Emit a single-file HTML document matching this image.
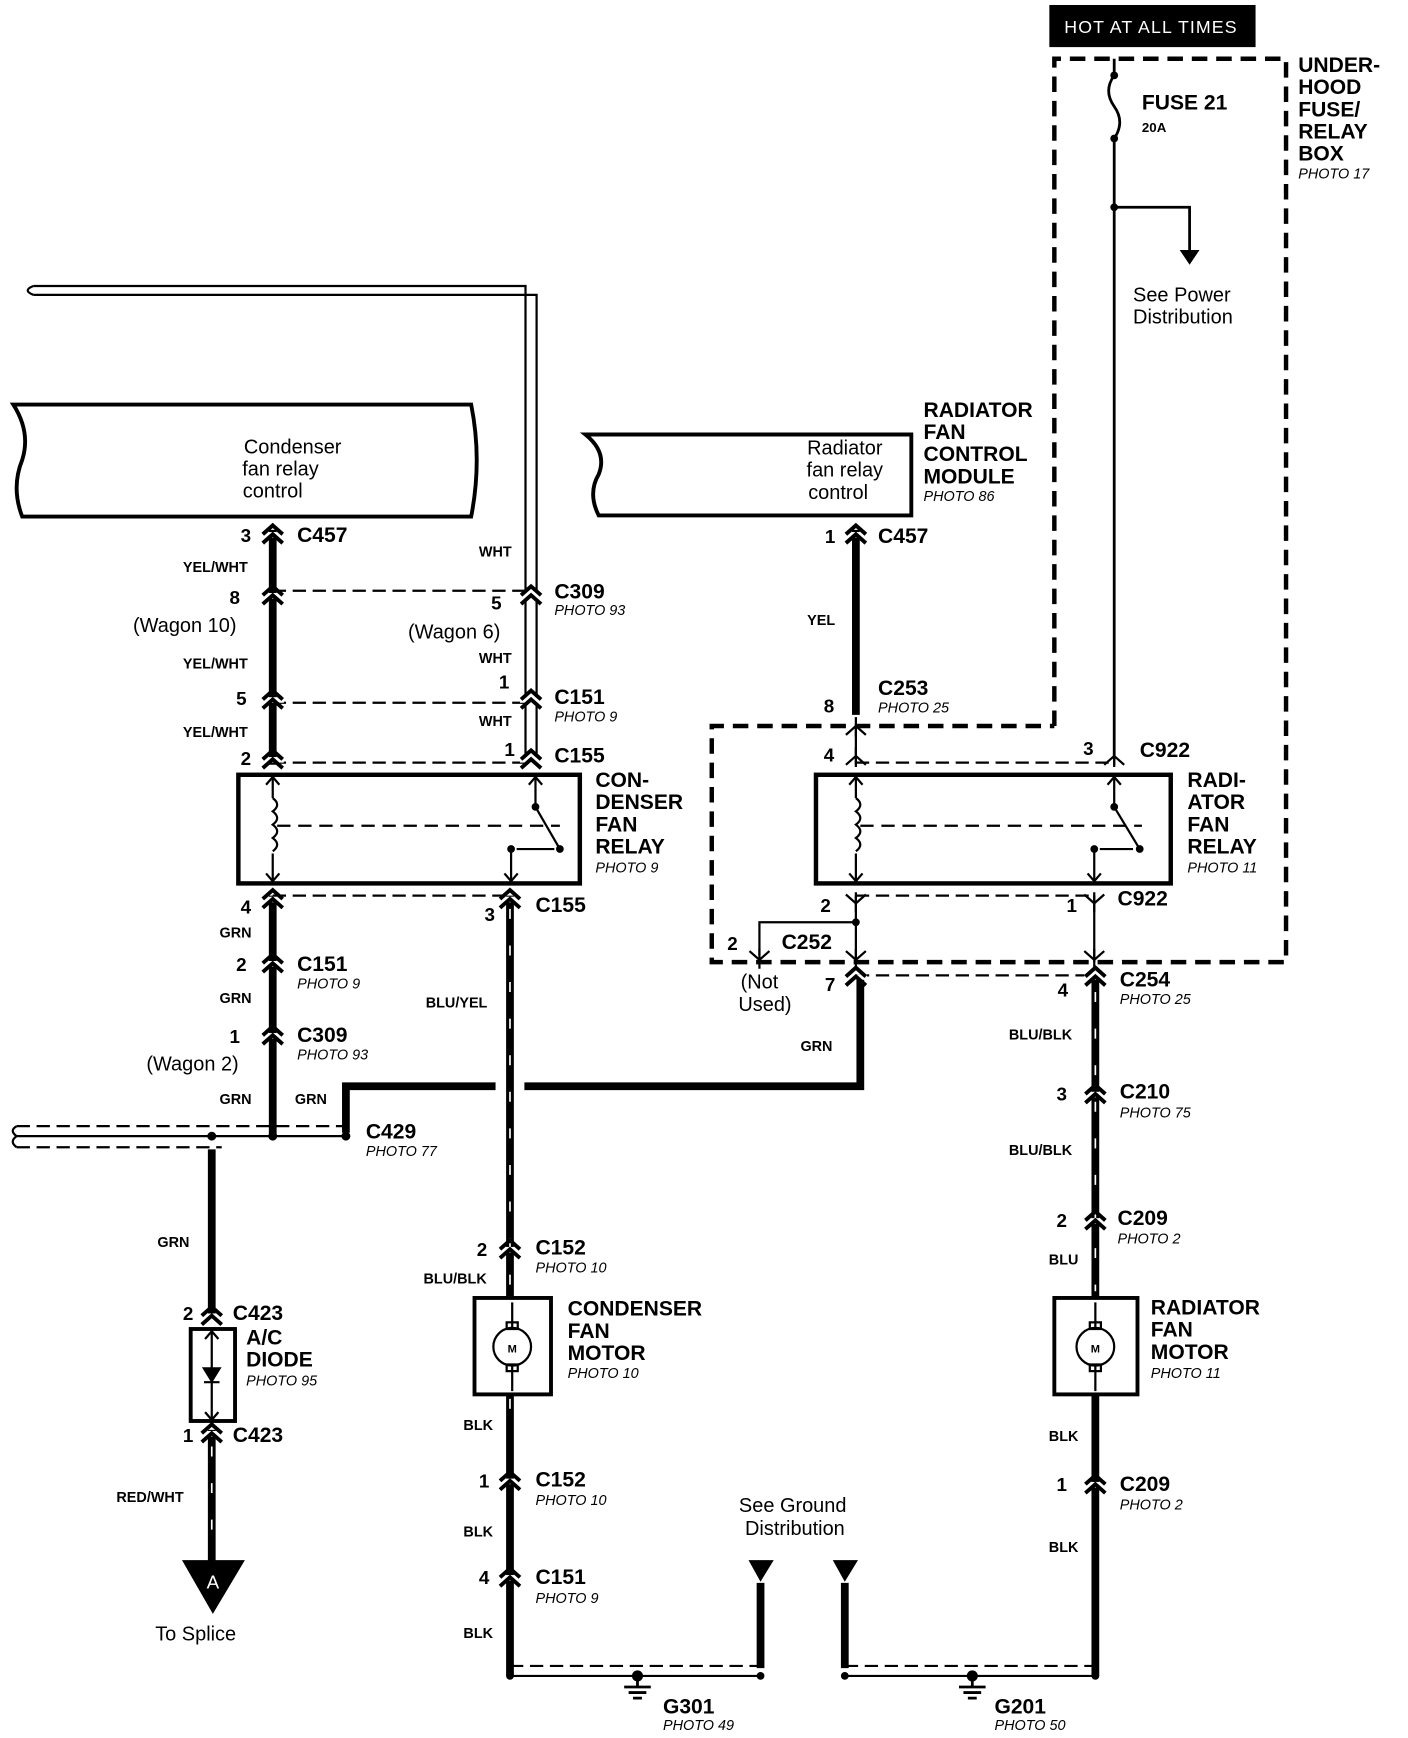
<!DOCTYPE html>
<html><head><meta charset="utf-8"><style>
html,body{margin:0;padding:0;background:#fff}
svg{display:block}
text{font-family:"Liberation Sans",Arial,sans-serif;fill:#000}
.b{font-weight:bold;font-size:17px}
.w{font-weight:bold;font-size:13px}
.h{font-weight:bold;font-size:19px}
.p{font-style:italic;font-size:13px}
.r{font-size:18px}
</style></head><body>
<svg width="1408" height="1738" viewBox="0 0 1270 1568" preserveAspectRatio="none" xmlns="http://www.w3.org/2000/svg">
<defs>
<g id="cn"><rect x="-10" y="-3" width="20" height="5" fill="#fff"/><path d="M-9 -1 L0 -9 L9 -1 M-9 7 L0 -1 L9 7" stroke="#000" stroke-width="3.5" fill="none"/></g>
<g id="cd"><path d="M-9 -8 L0 0 L9 -8 M0 -10 V8" stroke="#000" stroke-width="2" fill="none"/></g>
<g id="cu"><path d="M-9 8 L0 0 L9 8 M0 10 V-8" stroke="#000" stroke-width="2" fill="none"/></g>
</defs>
<g stroke="#000" fill="none">
<!-- header -->
<rect x="947" y="5" width="185" height="37" fill="#000"/>
<!-- underhood dashed box -->
<path d="M951 655 V53 H1160 V868 H642 V655 H951" stroke-width="4" stroke-dasharray="14 8"/>
<!-- fuse line -->
<path d="M1005 53 V68 M1005 125 V685" stroke-width="2.5"/>
<path d="M1005 68 Q995 82 1005 96 Q1015 110 1005 125" stroke-width="2.5"/>
<path d="M1005 187 H1073 V228" stroke-width="2.5"/>
<path d="M1065 226 L1081 226 L1073 238 Z" fill="#000"/>
<!-- left top double wire -->
<path d="M30 258 H474 V688 M30 266 H484 V688" stroke-width="2"/>
<path d="M30 258 Q20 262 30 266" stroke-width="2"/>
<!-- condenser control box -->
<path d="M12 365 H425 Q435 415 425 466 H20 Q10 440 20 415 Q28 390 12 365 Z" stroke-width="3.5"/>
<!-- radiator control box -->
<path d="M528 392 H822 V465 H540 Q530 445 540 428 Q548 408 528 392 Z" stroke-width="3.5"/>
<!-- thick left wire -->
<path d="M246 478 V690 M246 808 V1025" stroke-width="7"/>
<path d="M246 533 H480 M246 634 H480 M246 688 H480 M246 808 H460" stroke-width="2" stroke-dasharray="12 6"/>
<!-- relay 1 -->
<rect x="215" y="699" width="308" height="98" stroke-width="4"/>
<path d="M246 702 V720 M246 770 V794 M246 720 q8 6 0 12 q8 6 0 12 q8 6 0 12 q8 6 0 12" stroke-width="2"/>
<path d="M240 708 L246 701 L252 708 M240 788 L246 795 L252 788" stroke-width="2"/>
<path d="M250 745 H505" stroke-width="2" stroke-dasharray="12 7"/>
<path d="M483 702 V728 L505 766 M461 766 V794 M466 766 H500" stroke-width="2"/>
<path d="M477 708 L483 701 L489 708 M455 788 L461 795 L467 788" stroke-width="2"/>
<!-- relay 2 -->
<rect x="736" y="699" width="320" height="98" stroke-width="4"/>
<path d="M772 702 V720 M772 770 V794 M772 720 q8 6 0 12 q8 6 0 12 q8 6 0 12 q8 6 0 12" stroke-width="2"/>
<path d="M766 708 L772 701 L778 708 M766 788 L772 795 L778 788" stroke-width="2"/>
<path d="M776 745 H1030" stroke-width="2" stroke-dasharray="12 7"/>
<path d="M1005 702 V728 L1028 766 M987 766 V794 M992 766 H1022" stroke-width="2"/>
<path d="M999 708 L1005 701 L1011 708 M981 788 L987 795 L993 788" stroke-width="2"/>
<!-- right upper -->
<path d="M772 478 V645" stroke-width="7"/>
<path d="M772 655 V690 M1005 685 V690" stroke-width="2"/>
<path d="M772 688 H1005" stroke-width="2" stroke-dasharray="12 6"/>
<path d="M772 808 V868 M987 808 V868 M772 832 H685 V862" stroke-width="2"/>
<path d="M772 808 H987 M772 880 H987" stroke-width="2" stroke-dasharray="12 6"/>
<!-- GRN cross wire -->
<path d="M312 1022 V980 H447 M473 980 H776 V880" stroke-width="7"/>
<!-- left double horizontal -->
<path d="M15 1016 H312 M15 1035 H200" stroke-width="2" stroke-dasharray="12 6"/>
<path d="M15 1025 H312" stroke-width="2"/>
<path d="M15 1016 Q8 1020 15 1025 Q8 1030 15 1035" stroke-width="2"/>
<!-- diode wire -->
<path d="M191 1037 V1185 M191 1290 V1415" stroke-width="7"/>
<rect x="172" y="1199" width="40" height="83" stroke-width="3.5"/>
<path d="M191 1202 V1280 M185 1208 L191 1201 L197 1208 M185 1274 L191 1281 L197 1274 M184 1247 H198" stroke-width="2"/>
<path d="M183 1234 H199 L191 1247 Z" fill="#000"/>
<path d="M165 1408 H220 L192 1455 Z" fill="#000"/>
<!-- BLU/YEL wire -->
<path d="M460 808 V1170 M460 1258 V1512" stroke-width="7"/>
<rect x="428" y="1171" width="69" height="87" stroke-width="3.5"/>
<path d="M462 1175 V1198 M462 1232 V1255" stroke-width="2"/>
<circle cx="462" cy="1215" r="17" stroke-width="2"/>
<rect x="457" y="1193" width="10" height="6" stroke-width="2"/>
<rect x="457" y="1231" width="10" height="6" stroke-width="2"/>
<!-- radiator wire -->
<path d="M988 880 V1170 M988 1258 V1512" stroke-width="7"/>
<rect x="951" y="1171" width="75" height="87" stroke-width="3.5"/>
<path d="M988 1175 V1198 M988 1232 V1255" stroke-width="2"/>
<circle cx="988" cy="1215" r="17" stroke-width="2"/>
<rect x="983" y="1193" width="10" height="6" stroke-width="2"/>
<rect x="983" y="1231" width="10" height="6" stroke-width="2"/>
<!-- ground dist -->
<path d="M686 1428 V1505 M762 1428 V1505" stroke-width="7"/>
<path d="M676 1408 H697 L686 1426 Z M752 1408 H773 L762 1426 Z" fill="#000"/>
<path d="M460 1512 H686 M762 1512 H988" stroke-width="2"/>
<path d="M460 1503 H686 M762 1503 H988" stroke-width="2" stroke-dasharray="12 6"/>
<path d="M575 1512 V1522 M563 1522 H587 M567 1527 H583 M571 1532 H579" stroke-width="2.5"/>
<path d="M877 1512 V1522 M865 1522 H889 M869 1527 H885 M873 1532 H881" stroke-width="2.5"/>
<!-- stripe marks -->
<path d="M460 820 V1160 M460 1262 V1290 M988 895 V1165 M191 1305 V1400" stroke="#fff" stroke-width="1.5" stroke-dasharray="9 24"/>
</g>
<g fill="#000">
<circle cx="1005" cy="68" r="3.5"/><circle cx="1005" cy="125" r="3.5"/><circle cx="1005" cy="187" r="3.5"/>
<circle cx="246" cy="1025" r="4"/><circle cx="191" cy="1025" r="4"/><circle cx="312" cy="1025" r="4"/>
<circle cx="772" cy="832" r="3.5"/><circle cx="483" cy="728" r="3.5"/><circle cx="505" cy="766" r="3.5"/><circle cx="461" cy="766" r="3.5"/>
<circle cx="1005" cy="728" r="3.5"/><circle cx="1028" cy="766" r="3.5"/><circle cx="987" cy="766" r="3.5"/>
<circle cx="460" cy="1512" r="3.5"/><circle cx="686" cy="1512" r="3.5"/><circle cx="762" cy="1512" r="3.5"/><circle cx="988" cy="1512" r="3.5"/>
<circle cx="575" cy="1512" r="5"/><circle cx="877" cy="1512" r="5"/>
</g>
<use href="#cn" x="246" y="483"/><use href="#cn" x="246" y="538"/><use href="#cn" x="246" y="632"/><use href="#cn" x="246" y="686"/>
<use href="#cn" x="479" y="538"/><use href="#cn" x="479" y="632"/><use href="#cn" x="479" y="686"/>
<use href="#cn" x="246" y="812"/><use href="#cn" x="246" y="870"/><use href="#cn" x="246" y="935"/>
<use href="#cn" x="460" y="812"/><use href="#cn" x="460" y="1128"/><use href="#cn" x="460" y="1337"/><use href="#cn" x="460" y="1424"/>
<use href="#cn" x="191" y="1188"/><use href="#cn" x="191" y="1294"/>
<use href="#cn" x="772" y="483"/><use href="#cn" x="772" y="882"/>
<use href="#cn" x="988" y="882"/><use href="#cn" x="988" y="988"/><use href="#cn" x="988" y="1102"/><use href="#cn" x="988" y="1340"/>
<use href="#cu" x="772" y="655"/><use href="#cu" x="772" y="682"/><use href="#cu" x="1005" y="682"/>
<use href="#cd" x="772" y="815"/><use href="#cd" x="987" y="815"/><use href="#cd" x="772" y="866"/><use href="#cd" x="987" y="866"/><use href="#cd" x="685" y="866"/>

<text x="960" y="30" style="fill:#fff;font-size:16px;letter-spacing:1px">HOT AT ALL TIMES</text>
<text class="h" x="1030" y="99">FUSE 21</text><text class="w" x="1030" y="119" style="font-size:12px">20A</text>
<text class="h" x="1171" y="65">UNDER-</text><text class="h" x="1171" y="85">HOOD</text><text class="h" x="1171" y="105">FUSE/</text><text class="h" x="1171" y="125">RELAY</text><text class="h" x="1171" y="145">BOX</text><text class="p" x="1171" y="161">PHOTO 17</text>
<text class="r" x="1022" y="272">See Power</text><text class="r" x="1022" y="292">Distribution</text>
<text class="h" x="833" y="376">RADIATOR</text><text class="h" x="833" y="396">FAN</text><text class="h" x="833" y="416">CONTROL</text><text class="h" x="833" y="436">MODULE</text><text class="p" x="833" y="452">PHOTO 86</text>
<text class="r" x="762" y="410" text-anchor="middle">Radiator</text><text class="r" x="762" y="430" text-anchor="middle">fan relay</text><text class="r" x="756" y="450" text-anchor="middle">control</text>
<text class="r" x="264" y="409" text-anchor="middle">Condenser</text><text class="r" x="253" y="429" text-anchor="middle">fan relay</text><text class="r" x="246" y="449" text-anchor="middle">control</text>

<text class="b" x="217" y="489">3</text><text class="h" x="268" y="489">C457</text>
<text class="w" x="165" y="516">YEL/WHT</text><text class="w" x="432" y="502">WHT</text>
<text class="b" x="207" y="545">8</text><text class="r" x="120" y="570">(Wagon 10)</text>
<text class="h" x="500" y="540">C309</text><text class="p" x="500" y="555">PHOTO 93</text>
<text class="b" x="443" y="550">5</text><text class="r" x="368" y="576">(Wagon 6)</text>
<text class="w" x="165" y="603">YEL/WHT</text><text class="w" x="432" y="598">WHT</text><text class="b" x="450" y="621">1</text>
<text class="b" x="213" y="636">5</text><text class="h" x="500" y="635">C151</text><text class="p" x="500" y="651">PHOTO 9</text>
<text class="w" x="165" y="665">YEL/WHT</text><text class="w" x="432" y="655">WHT</text><text class="b" x="455" y="682">1</text>
<text class="b" x="217" y="690">2</text><text class="h" x="500" y="688">C155</text>
<text class="h" x="537" y="710">CON-</text><text class="h" x="537" y="730">DENSER</text><text class="h" x="537" y="750">FAN</text><text class="h" x="537" y="770">RELAY</text><text class="p" x="537" y="787">PHOTO 9</text>
<text class="b" x="217" y="824">4</text><text class="b" x="437" y="831">3</text><text class="h" x="483" y="823">C155</text>
<text class="w" x="198" y="846">GRN</text>
<text class="b" x="213" y="876">2</text><text class="h" x="268" y="876">C151</text><text class="p" x="268" y="892">PHOTO 9</text>
<text class="w" x="198" y="905">GRN</text>
<text class="b" x="207" y="941">1</text><text class="h" x="268" y="940">C309</text><text class="p" x="268" y="956">PHOTO 93</text>
<text class="r" x="132" y="966">(Wagon 2)</text>
<text class="w" x="198" y="996">GRN</text><text class="w" x="266" y="996">GRN</text><text class="w" x="384" y="909">BLU/YEL</text>
<text class="h" x="330" y="1027">C429</text><text class="p" x="330" y="1043">PHOTO 77</text>
<text class="w" x="142" y="1125">GRN</text>
<text class="b" x="165" y="1191">2</text><text class="h" x="210" y="1191">C423</text>
<text class="h" x="222" y="1213">A/C</text><text class="h" x="222" y="1233">DIODE</text><text class="p" x="222" y="1250">PHOTO 95</text>
<text class="b" x="165" y="1301">1</text><text class="h" x="210" y="1301">C423</text>
<text class="w" x="105" y="1355">RED/WHT</text>
<text x="192" y="1433" text-anchor="middle" style="fill:#fff;font-size:17px">A</text>
<text class="r" x="140" y="1480">To Splice</text>
<text class="b" x="430" y="1133">2</text><text class="h" x="483" y="1132">C152</text><text class="p" x="483" y="1148">PHOTO 10</text>
<text class="w" x="382" y="1158">BLU/BLK</text>
<text x="462" y="1220" text-anchor="middle" style="font-size:10px;font-weight:bold">M</text>
<text x="988" y="1220" text-anchor="middle" style="font-size:10px;font-weight:bold">M</text>
<text class="h" x="512" y="1187">CONDENSER</text><text class="h" x="512" y="1207">FAN</text><text class="h" x="512" y="1227">MOTOR</text><text class="p" x="512" y="1243">PHOTO 10</text>
<text class="w" x="418" y="1290">BLK</text>
<text class="b" x="432" y="1342">1</text><text class="h" x="483" y="1341">C152</text><text class="p" x="483" y="1358">PHOTO 10</text>
<text class="w" x="418" y="1386">BLK</text>
<text class="b" x="432" y="1429">4</text><text class="h" x="483" y="1429">C151</text><text class="p" x="483" y="1446">PHOTO 9</text>
<text class="w" x="418" y="1478">BLK</text>
<text class="r" x="715" y="1364" text-anchor="middle">See Ground</text><text class="r" x="717" y="1385" text-anchor="middle">Distribution</text>
<text class="h" x="598" y="1546">G301</text><text class="p" x="598" y="1561">PHOTO 49</text>
<text class="h" x="897" y="1546">G201</text><text class="p" x="897" y="1561">PHOTO 50</text>

<text class="b" x="744" y="490">1</text><text class="h" x="792" y="490">C457</text>
<text class="w" x="728" y="564">YEL</text>
<text class="h" x="792" y="627">C253</text><text class="p" x="792" y="643">PHOTO 25</text><text class="b" x="743" y="643">8</text>
<text class="b" x="743" y="687">4</text><text class="b" x="977" y="681">3</text><text class="h" x="1028" y="683">C922</text>
<text class="h" x="1071" y="710">RADI-</text><text class="h" x="1071" y="730">ATOR</text><text class="h" x="1071" y="750">FAN</text><text class="h" x="1071" y="770">RELAY</text><text class="p" x="1071" y="787">PHOTO 11</text>
<text class="b" x="740" y="823">2</text><text class="b" x="962" y="823">1</text><text class="h" x="1008" y="817">C922</text>
<text class="b" x="656" y="857">2</text><text class="h" x="705" y="856">C252</text>
<text class="r" x="668" y="892">(Not</text><text class="r" x="666" y="912">Used)</text>
<text class="b" x="744" y="894">7</text><text class="b" x="954" y="899">4</text>
<text class="h" x="1010" y="890">C254</text><text class="p" x="1010" y="906">PHOTO 25</text>
<text class="w" x="722" y="948">GRN</text><text class="w" x="910" y="938">BLU/BLK</text>
<text class="b" x="953" y="993">3</text><text class="h" x="1010" y="991">C210</text><text class="p" x="1010" y="1008">PHOTO 75</text>
<text class="w" x="910" y="1042">BLU/BLK</text>
<text class="b" x="953" y="1107">2</text><text class="h" x="1008" y="1105">C209</text><text class="p" x="1008" y="1122">PHOTO 2</text>
<text class="w" x="946" y="1141">BLU</text>
<text class="h" x="1038" y="1186">RADIATOR</text><text class="h" x="1038" y="1206">FAN</text><text class="h" x="1038" y="1226">MOTOR</text><text class="p" x="1038" y="1243">PHOTO 11</text>
<text class="w" x="946" y="1300">BLK</text>
<text class="b" x="953" y="1345">1</text><text class="h" x="1010" y="1345">C209</text><text class="p" x="1010" y="1362">PHOTO 2</text>
<text class="w" x="946" y="1400">BLK</text>
</svg>
</body></html>
